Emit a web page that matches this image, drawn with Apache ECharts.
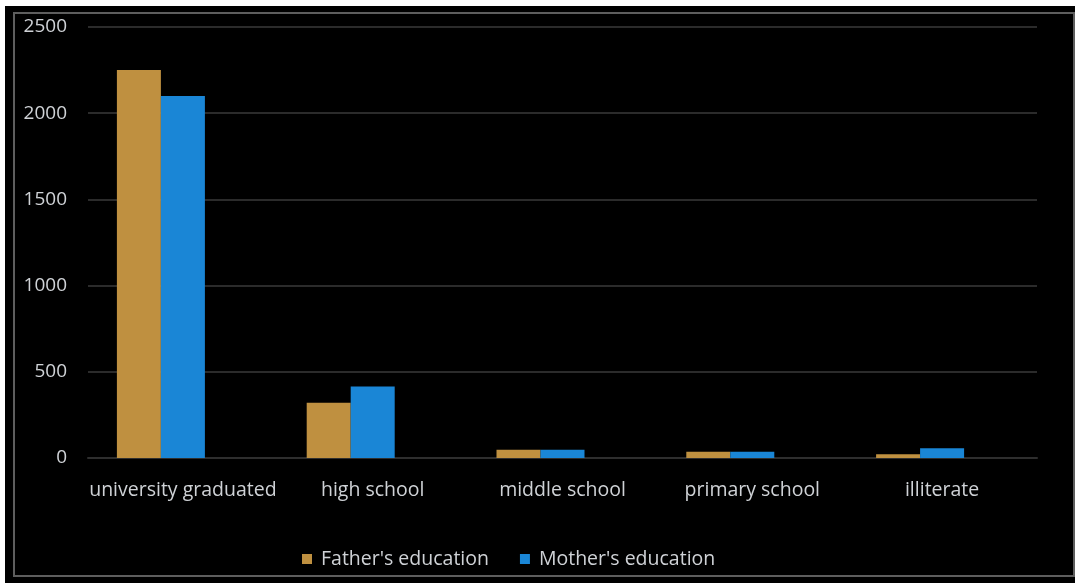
<!DOCTYPE html>
<html>
<head>
<meta charset="utf-8">
<script src="https://cdn.jsdelivr.net/npm/echarts@6/dist/echarts.min.js"></script>
<style>
html,body{margin:0;padding:0;background:#fff;width:1075px;height:583px;overflow:hidden;}
#bg{position:absolute;left:5px;top:6px;width:1070px;height:577px;background:#000;}
#frame{position:absolute;left:13px;top:12px;width:1058px;height:561px;border:2px solid #5e5e5e;}
#chart{position:absolute;left:0;top:0;width:1075px;height:583px;}
</style>
</head>
<body>
<div id="bg"></div>
<div id="frame"></div>
<div id="chart"></div>
<script>
const categories = ['university graduated', 'high school', 'middle school', 'primary school', 'illiterate'];
const fatherEducation = [2250, 320, 48, 36, 22];
const motherEducation = [2100, 415, 48, 36, 57];
// third (empty) series slot, as in the original spreadsheet chart
const emptySeries = [null, null, null, null, null];
const seriesNames = ["Father's education", "Mother's education"];
const yTicks = [0, 500, 1000, 1500, 2000, 2500];

const chart = echarts.init(document.getElementById('chart'), null, {renderer: 'canvas'});
const font = '"Open Sans", sans-serif';
const textColor = '#cfd2d6';
chart.setOption({
  backgroundColor: 'transparent',
  animation: false,
  textStyle: {fontFamily: font},
  grid: {left: 88, right: 38, top: 27, bottom: 125, containLabel: false},
  legend: {
    left: 297, top: 544,
    itemWidth: 10, itemHeight: 10, itemGap: 31,
    icon: 'rect',
    textStyle: {color: textColor, fontSize: 19.5, fontFamily: font, padding: [0, 0, 0, 4]},
    data: seriesNames
  },
  xAxis: {
    type: 'category',
    data: categories,
    axisLine: {show: true, lineStyle: {color: '#2e2e2e', width: 2}},
    axisTick: {show: false},
    axisLabel: {color: textColor, fontSize: 19.5, margin: 22, interval: 0, fontFamily: font}
  },
  yAxis: {
    type: 'value',
    min: yTicks[0], max: yTicks[yTicks.length - 1], interval: 500,
    axisLine: {show: false},
    axisTick: {show: false},
    splitLine: {lineStyle: {color: '#2b2b2b', width: 2}},
    axisLabel: {color: textColor, fontSize: 19, margin: 21, fontFamily: font, formatter: v => String(v)}
  },
  series: [
    {name: seriesNames[0], type: 'bar', data: fatherEducation, itemStyle: {color: '#bf9040'}, barGap: '0%', barWidth: 44},
    {name: seriesNames[1], type: 'bar', data: motherEducation, itemStyle: {color: '#1a86d6'}, barGap: '0%', barWidth: 44},
    {name: 'empty', type: 'bar', data: emptySeries, barGap: '0%', barWidth: 44, itemStyle: {color: 'transparent'}}
  ]
});
</script>
</body>
</html>
